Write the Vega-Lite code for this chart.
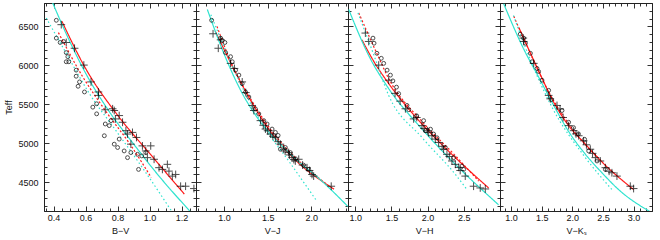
{
"$schema":"https://vega.github.io/schema/vega-lite/v6.json",
"padding":{"left":4,"top":2,"right":0,"bottom":0},
"bounds":"flush",
"spacing":0,
"config":{"view":{"stroke":"#222","strokeWidth":1},"concat":{"spacing":0},
"axis":{"domainColor":"#222","tickColor":"#333","labelFont":"Liberation Sans","labelFontSize":9,"titleFont":"Liberation Sans","titleFontSize":9,"titleFontWeight":"normal","labelColor":"#111","titleColor":"#111","domainWidth":1,"tickWidth":1,"grid":false,"labelFlush":false,"labelOverlap":false}},
"datasets":{
"lines":[
{"p":"BV","s":"fit","x":0.452,"t":6565},{"p":"BV","s":"fit","x":0.6,"t":5960},{"p":"BV","s":"fit","x":0.8,"t":5360},{"p":"BV","s":"fit","x":1.0,"t":4870},{"p":"BV","s":"fit","x":1.217,"t":4347},
{"p":"BV","s":"fitd","x":0.43,"t":6420},{"p":"BV","s":"fitd","x":0.58,"t":5860},{"p":"BV","s":"fitd","x":0.73,"t":5400},{"p":"BV","s":"fitd","x":0.88,"t":4980},{"p":"BV","s":"fitd","x":1.01,"t":4560},
{"p":"BV","s":"cal","x":0.38,"t":6870},{"p":"BV","s":"cal","x":0.48,"t":6400},{"p":"BV","s":"cal","x":0.6,"t":5900},{"p":"BV","s":"cal","x":0.75,"t":5400},{"p":"BV","s":"cal","x":0.9,"t":4990},{"p":"BV","s":"cal","x":1.05,"t":4600},{"p":"BV","s":"cal","x":1.26,"t":4110},
{"p":"BV","s":"cald","x":0.354,"t":6608},{"p":"BV","s":"cald","x":0.479,"t":6154},{"p":"BV","s":"cald","x":0.624,"t":5636},{"p":"BV","s":"cald","x":0.79,"t":5161},{"p":"BV","s":"cald","x":0.955,"t":4686},{"p":"BV","s":"cald","x":1.142,"t":4115},
{"p":"VJ","s":"fit","x":0.9,"t":6440},{"p":"VJ","s":"fit","x":1.1,"t":5980},{"p":"VJ","s":"fit","x":1.3,"t":5560},{"p":"VJ","s":"fit","x":1.5,"t":5200},{"p":"VJ","s":"fit","x":1.7,"t":4920},{"p":"VJ","s":"fit","x":1.9,"t":4700},{"p":"VJ","s":"fit","x":2.1,"t":4530},{"p":"VJ","s":"fit","x":2.26,"t":4410},
{"p":"VJ","s":"fitd","x":0.92,"t":6500},{"p":"VJ","s":"fitd","x":1.1,"t":5990},{"p":"VJ","s":"fitd","x":1.3,"t":5580},{"p":"VJ","s":"fitd","x":1.5,"t":5230},{"p":"VJ","s":"fitd","x":1.7,"t":4950},{"p":"VJ","s":"fitd","x":1.9,"t":4730},{"p":"VJ","s":"fitd","x":2.2,"t":4450},
{"p":"VJ","s":"cal","x":0.81,"t":6716},{"p":"VJ","s":"cal","x":1.0,"t":6150},{"p":"VJ","s":"cal","x":1.2,"t":5660},{"p":"VJ","s":"cal","x":1.4,"t":5300},{"p":"VJ","s":"cal","x":1.6,"t":5040},{"p":"VJ","s":"cal","x":1.817,"t":4800},{"p":"VJ","s":"cal","x":2.122,"t":4513},{"p":"VJ","s":"cal","x":2.418,"t":4189},
{"p":"VJ","s":"cald","x":0.85,"t":6650},{"p":"VJ","s":"cald","x":1.171,"t":5809},{"p":"VJ","s":"cald","x":1.437,"t":5247},{"p":"VJ","s":"cald","x":1.741,"t":4772},{"p":"VJ","s":"cald","x":2.065,"t":4254},
{"p":"VH","s":"fit","x":1.093,"t":6327},{"p":"VH","s":"fit","x":1.25,"t":6060},{"p":"VH","s":"fit","x":1.462,"t":5766},{"p":"VH","s":"fit","x":1.922,"t":5247},{"p":"VH","s":"fit","x":2.383,"t":4815},{"p":"VH","s":"fit","x":2.843,"t":4426},
{"p":"VH","s":"fitd","x":1.048,"t":6673},{"p":"VH","s":"fitd","x":1.3,"t":6150},{"p":"VH","s":"fitd","x":1.462,"t":5830},{"p":"VH","s":"fitd","x":1.922,"t":5280},{"p":"VH","s":"fitd","x":2.383,"t":4840},{"p":"VH","s":"fitd","x":2.705,"t":4513},
{"p":"VH","s":"cal","x":0.91,"t":6716},{"p":"VH","s":"cal","x":1.2,"t":6100},{"p":"VH","s":"cal","x":1.462,"t":5701},{"p":"VH","s":"cal","x":1.922,"t":5182},{"p":"VH","s":"cal","x":2.383,"t":4729},{"p":"VH","s":"cal","x":2.98,"t":4210},
{"p":"VH","s":"cald","x":1.038,"t":6673},{"p":"VH","s":"cald","x":1.25,"t":6150},{"p":"VH","s":"cald","x":1.462,"t":5614},{"p":"VH","s":"cald","x":1.922,"t":5074},{"p":"VH","s":"cald","x":2.383,"t":4600},{"p":"VH","s":"cald","x":2.544,"t":4405},
{"p":"VK","s":"fit","x":1.13,"t":6480},{"p":"VK","s":"fit","x":1.45,"t":5930},{"p":"VK","s":"fit","x":1.7,"t":5520},{"p":"VK","s":"fit","x":1.94,"t":5226},{"p":"VK","s":"fit","x":2.213,"t":4988},{"p":"VK","s":"fit","x":2.483,"t":4760},{"p":"VK","s":"fit","x":3.0,"t":4405},
{"p":"VK","s":"fitd","x":1.044,"t":6630},{"p":"VK","s":"fitd","x":1.3,"t":6180},{"p":"VK","s":"fitd","x":1.6,"t":5680},{"p":"VK","s":"fitd","x":1.94,"t":5250},{"p":"VK","s":"fitd","x":2.5,"t":4750},
{"p":"VK","s":"cal","x":0.88,"t":6790},{"p":"VK","s":"cal","x":1.2,"t":6220},{"p":"VK","s":"cal","x":1.45,"t":5850},{"p":"VK","s":"cal","x":1.7,"t":5480},{"p":"VK","s":"cal","x":1.94,"t":5150},{"p":"VK","s":"cal","x":2.213,"t":4858},{"p":"VK","s":"cal","x":2.483,"t":4621},{"p":"VK","s":"cal","x":2.755,"t":4405},{"p":"VK","s":"cal","x":3.28,"t":4115},
{"p":"VK","s":"cald","x":1.04,"t":6640},{"p":"VK","s":"cald","x":1.3,"t":6100},{"p":"VK","s":"cald","x":1.668,"t":5463},{"p":"VK","s":"cald","x":2.213,"t":4815},{"p":"VK","s":"cald","x":2.646,"t":4405}
],
"pts":[
{"p":"BV","k":"c","x":0.448,"t":6522},{"p":"BV","k":"c","x":0.479,"t":6293},{"p":"BV","k":"c","x":0.531,"t":6219},{"p":"BV","k":"c","x":0.589,"t":6003},{"p":"BV","k":"c","x":0.634,"t":5787},{"p":"BV","k":"c","x":0.68,"t":5658},{"p":"BV","k":"c","x":0.68,"t":5614},{"p":"BV","k":"c","x":0.723,"t":5429},{"p":"BV","k":"c","x":0.769,"t":5442},{"p":"BV","k":"c","x":0.779,"t":5420},{"p":"BV","k":"c","x":0.786,"t":5312},{"p":"BV","k":"c","x":0.81,"t":5355},{"p":"BV","k":"c","x":0.831,"t":5269},{"p":"BV","k":"c","x":0.852,"t":5161},{"p":"BV","k":"c","x":0.862,"t":5118},{"p":"BV","k":"c","x":0.883,"t":4988},{"p":"BV","k":"c","x":0.893,"t":5139},{"p":"BV","k":"c","x":0.918,"t":5074},{"p":"BV","k":"c","x":0.955,"t":4966},{"p":"BV","k":"c","x":0.976,"t":4901},{"p":"BV","k":"c","x":0.986,"t":4815},{"p":"BV","k":"c","x":1.007,"t":4966},{"p":"BV","k":"c","x":1.028,"t":4794},{"p":"BV","k":"c","x":1.059,"t":4686},{"p":"BV","k":"c","x":1.08,"t":4664},{"p":"BV","k":"c","x":1.111,"t":4729},{"p":"BV","k":"c","x":1.121,"t":4642},{"p":"BV","k":"c","x":1.142,"t":4578},{"p":"BV","k":"c","x":1.163,"t":4599},{"p":"BV","k":"c","x":1.194,"t":4448},{"p":"BV","k":"c","x":1.225,"t":4448},{"p":"BV","k":"c","x":1.277,"t":4418},
{"p":"BV","k":"o","x":0.417,"t":6578},{"p":"BV","k":"o","x":0.417,"t":6349},{"p":"BV","k":"o","x":0.441,"t":6293},{"p":"BV","k":"o","x":0.462,"t":6306},{"p":"BV","k":"o","x":0.479,"t":6163},{"p":"BV","k":"o","x":0.489,"t":6111},{"p":"BV","k":"o","x":0.479,"t":6046},{"p":"BV","k":"o","x":0.495,"t":6046},{"p":"BV","k":"o","x":0.541,"t":5938},{"p":"BV","k":"o","x":0.541,"t":5860},{"p":"BV","k":"o","x":0.553,"t":5731},{"p":"BV","k":"o","x":0.562,"t":5787},{"p":"BV","k":"o","x":0.593,"t":5658},{"p":"BV","k":"o","x":0.645,"t":5463},{"p":"BV","k":"o","x":0.669,"t":5377},{"p":"BV","k":"o","x":0.669,"t":5506},{"p":"BV","k":"o","x":0.723,"t":5247},{"p":"BV","k":"o","x":0.717,"t":5096},{"p":"BV","k":"o","x":0.748,"t":5226},{"p":"BV","k":"o","x":0.759,"t":5290},{"p":"BV","k":"o","x":0.779,"t":4988},{"p":"BV","k":"o","x":0.8,"t":4945},{"p":"BV","k":"o","x":0.81,"t":5053},{"p":"BV","k":"o","x":0.841,"t":4901},{"p":"BV","k":"o","x":0.862,"t":4815},{"p":"BV","k":"o","x":0.883,"t":4880},{"p":"BV","k":"o","x":0.924,"t":4858},{"p":"BV","k":"o","x":0.931,"t":4664},{"p":"BV","k":"o","x":0.951,"t":4837},{"p":"BV","k":"o","x":0.976,"t":4880},
{"p":"VJ","k":"c","x":0.875,"t":6405},{"p":"VJ","k":"c","x":0.935,"t":6219},{"p":"VJ","k":"c","x":0.962,"t":6327},{"p":"VJ","k":"c","x":1.076,"t":6025},{"p":"VJ","k":"c","x":1.12,"t":5960},{"p":"VJ","k":"c","x":1.209,"t":5787},{"p":"VJ","k":"c","x":1.25,"t":5650},{"p":"VJ","k":"c","x":1.323,"t":5485},{"p":"VJ","k":"c","x":1.342,"t":5420},{"p":"VJ","k":"c","x":1.418,"t":5290},{"p":"VJ","k":"c","x":1.45,"t":5230},{"p":"VJ","k":"c","x":1.475,"t":5182},{"p":"VJ","k":"c","x":1.5,"t":5160},{"p":"VJ","k":"c","x":1.532,"t":5118},{"p":"VJ","k":"c","x":1.56,"t":5090},{"p":"VJ","k":"c","x":1.589,"t":5074},{"p":"VJ","k":"c","x":1.62,"t":5020},{"p":"VJ","k":"c","x":1.646,"t":4988},{"p":"VJ","k":"c","x":1.684,"t":4923},{"p":"VJ","k":"c","x":1.7,"t":4900},{"p":"VJ","k":"c","x":1.741,"t":4880},{"p":"VJ","k":"c","x":1.75,"t":4850},{"p":"VJ","k":"c","x":1.779,"t":4815},{"p":"VJ","k":"c","x":1.8,"t":4790},{"p":"VJ","k":"c","x":1.817,"t":4772},{"p":"VJ","k":"c","x":1.856,"t":4794},{"p":"VJ","k":"c","x":1.9,"t":4720},{"p":"VJ","k":"c","x":1.951,"t":4686},{"p":"VJ","k":"c","x":1.98,"t":4650},{"p":"VJ","k":"c","x":2.008,"t":4599},{"p":"VJ","k":"c","x":2.027,"t":4578},{"p":"VJ","k":"c","x":2.228,"t":4448},
{"p":"VJ","k":"o","x":0.859,"t":6578},{"p":"VJ","k":"o","x":0.962,"t":6349},{"p":"VJ","k":"o","x":0.98,"t":6320},{"p":"VJ","k":"o","x":1.011,"t":6293},{"p":"VJ","k":"o","x":1.019,"t":6163},{"p":"VJ","k":"o","x":1.076,"t":6111},{"p":"VJ","k":"o","x":1.095,"t":6046},{"p":"VJ","k":"o","x":1.133,"t":5938},{"p":"VJ","k":"o","x":1.171,"t":5874},{"p":"VJ","k":"o","x":1.209,"t":5766},{"p":"VJ","k":"o","x":1.247,"t":5658},{"p":"VJ","k":"o","x":1.285,"t":5593},{"p":"VJ","k":"o","x":1.36,"t":5440},{"p":"VJ","k":"o","x":1.399,"t":5377},{"p":"VJ","k":"o","x":1.456,"t":5290},{"p":"VJ","k":"o","x":1.494,"t":5247},{"p":"VJ","k":"o","x":1.551,"t":5182},{"p":"VJ","k":"o","x":1.589,"t":5139},{"p":"VJ","k":"o","x":1.62,"t":5100},{"p":"VJ","k":"o","x":1.646,"t":4923},{"p":"VJ","k":"o","x":1.703,"t":4945},{"p":"VJ","k":"o","x":1.76,"t":4880},{"p":"VJ","k":"o","x":1.82,"t":4800},{"p":"VJ","k":"o","x":1.91,"t":4720},{"p":"VJ","k":"o","x":1.97,"t":4664},
{"p":"VH","k":"c","x":1.14,"t":6414},{"p":"VH","k":"c","x":1.186,"t":6306},{"p":"VH","k":"c","x":1.324,"t":6003},{"p":"VH","k":"c","x":1.462,"t":5809},{"p":"VH","k":"c","x":1.55,"t":5640},{"p":"VH","k":"c","x":1.62,"t":5540},{"p":"VH","k":"c","x":1.693,"t":5442},{"p":"VH","k":"c","x":1.807,"t":5312},{"p":"VH","k":"c","x":1.85,"t":5330},{"p":"VH","k":"c","x":1.922,"t":5226},{"p":"VH","k":"c","x":1.95,"t":5190},{"p":"VH","k":"c","x":2.0,"t":5160},{"p":"VH","k":"c","x":2.014,"t":5139},{"p":"VH","k":"c","x":2.06,"t":5096},{"p":"VH","k":"c","x":2.106,"t":5053},{"p":"VH","k":"c","x":2.152,"t":5010},{"p":"VH","k":"c","x":2.2,"t":4960},{"p":"VH","k":"c","x":2.221,"t":4923},{"p":"VH","k":"c","x":2.267,"t":4858},{"p":"VH","k":"c","x":2.3,"t":4830},{"p":"VH","k":"c","x":2.336,"t":4772},{"p":"VH","k":"c","x":2.383,"t":4729},{"p":"VH","k":"c","x":2.43,"t":4690},{"p":"VH","k":"c","x":2.45,"t":4650},{"p":"VH","k":"c","x":2.52,"t":4578},{"p":"VH","k":"c","x":2.635,"t":4448},{"p":"VH","k":"c","x":2.727,"t":4426},{"p":"VH","k":"c","x":2.797,"t":4413},
{"p":"VH","k":"o","x":1.245,"t":6349},{"p":"VH","k":"o","x":1.26,"t":6284},{"p":"VH","k":"o","x":1.3,"t":6154},{"p":"VH","k":"o","x":1.36,"t":6090},{"p":"VH","k":"o","x":1.393,"t":6025},{"p":"VH","k":"o","x":1.44,"t":5938},{"p":"VH","k":"o","x":1.486,"t":5874},{"p":"VH","k":"o","x":1.52,"t":5800},{"p":"VH","k":"o","x":1.57,"t":5720},{"p":"VH","k":"o","x":1.6,"t":5636},{"p":"VH","k":"o","x":1.715,"t":5485},{"p":"VH","k":"o","x":1.74,"t":5430},{"p":"VH","k":"o","x":1.85,"t":5350},{"p":"VH","k":"o","x":1.945,"t":5290},{"p":"VH","k":"o","x":1.97,"t":5160},{"p":"VH","k":"o","x":2.04,"t":5180},{"p":"VH","k":"o","x":2.083,"t":5118},{"p":"VH","k":"o","x":2.13,"t":5070},{"p":"VH","k":"o","x":2.244,"t":4945},{"p":"VH","k":"o","x":2.36,"t":4815},{"p":"VH","k":"o","x":2.475,"t":4707},{"p":"VH","k":"o","x":2.498,"t":4664},
{"p":"VK","k":"c","x":1.2,"t":6350},{"p":"VK","k":"c","x":1.207,"t":6306},{"p":"VK","k":"c","x":1.37,"t":6025},{"p":"VK","k":"c","x":1.614,"t":5614},{"p":"VK","k":"c","x":1.64,"t":5570},{"p":"VK","k":"c","x":1.75,"t":5485},{"p":"VK","k":"c","x":1.8,"t":5440},{"p":"VK","k":"c","x":1.85,"t":5330},{"p":"VK","k":"c","x":1.94,"t":5226},{"p":"VK","k":"c","x":2.022,"t":5161},{"p":"VK","k":"c","x":2.06,"t":5120},{"p":"VK","k":"c","x":2.104,"t":5096},{"p":"VK","k":"c","x":2.185,"t":5031},{"p":"VK","k":"c","x":2.23,"t":4980},{"p":"VK","k":"c","x":2.294,"t":4923},{"p":"VK","k":"c","x":2.33,"t":4870},{"p":"VK","k":"c","x":2.376,"t":4815},{"p":"VK","k":"c","x":2.457,"t":4772},{"p":"VK","k":"c","x":2.539,"t":4686},{"p":"VK","k":"c","x":2.6,"t":4640},{"p":"VK","k":"c","x":2.646,"t":4621},{"p":"VK","k":"c","x":2.728,"t":4578},{"p":"VK","k":"c","x":2.946,"t":4448},{"p":"VK","k":"c","x":3.0,"t":4418},
{"p":"VK","k":"o","x":1.15,"t":6400},{"p":"VK","k":"o","x":1.207,"t":6349},{"p":"VK","k":"o","x":1.235,"t":6284},{"p":"VK","k":"o","x":1.316,"t":6154},{"p":"VK","k":"o","x":1.343,"t":6046},{"p":"VK","k":"o","x":1.424,"t":5960},{"p":"VK","k":"o","x":1.45,"t":5920},{"p":"VK","k":"o","x":1.505,"t":5809},{"p":"VK","k":"o","x":1.614,"t":5679},{"p":"VK","k":"o","x":1.66,"t":5560},{"p":"VK","k":"o","x":1.832,"t":5420},{"p":"VK","k":"o","x":1.94,"t":5269},{"p":"VK","k":"o","x":2.02,"t":5200},{"p":"VK","k":"o","x":2.1,"t":5120},{"p":"VK","k":"o","x":2.2,"t":5050},{"p":"VK","k":"o","x":2.267,"t":4901},{"p":"VK","k":"o","x":2.403,"t":4772},{"p":"VK","k":"o","x":2.539,"t":4664}
]},
"hconcat":[
{"width":152,"height":208,
"layer":[
{"data":{"name":"lines"},"transform":[{"filter":"datum.p==='BV'"}],"mark":{"type":"line","clip":true,"strokeWidth":1.2,"interpolate":"monotone"},
"encoding":{
"x":{"field":"x","type":"quantitative","scale":{"domain":[0.34,1.29],"nice":false,"zero":false},"axis":{"orient":"bottom","values":[0.35,0.4,0.45,0.5,0.55,0.6,0.65,0.7,0.75,0.8,0.85,0.9,0.95,1.0,1.05,1.1,1.15,1.2,1.25],"format":".1f","labelExpr":"abs(datum.value*5-round(datum.value*5))<0.001 ? datum.label : ''","tickSize":{"condition":{"test":"abs(datum.value*5-round(datum.value*5))<0.001","value":-5},"value":-3},"labelPadding":7,"title":"B−V","titlePadding":2}},
"y":{"field":"t","type":"quantitative","scale":{"domain":[4130,6800],"nice":false,"zero":false},"axis":{"orient":"left","values":[4200,4300,4400,4500,4600,4700,4800,4900,5000,5100,5200,5300,5400,5500,5600,5700,5800,5900,6000,6100,6200,6300,6400,6500,6600,6700],"format":"d","labelExpr":"datum.value % 500 === 0 ? datum.label : ''","tickSize":{"condition":{"test":"datum.value % 500 === 0","value":-5},"value":-3},"labelPadding":11,"title":"Teff","titlePadding":4}},
"color":{"field":"s","type":"nominal","scale":{"domain":["fit","fitd","cal","cald"],"range":["#ff1a1a","#ff1a1a","#2ee3cf","#2ee3cf"]},"legend":null},
"strokeDash":{"field":"s","type":"nominal","scale":{"domain":["fit","fitd","cal","cald"],"range":[[1,0],[2,2],[1,0],[1.5,2.5]]},"legend":null}}},
{"data":{"name":"pts"},"transform":[{"filter":"datum.p==='BV' && datum.k==='c'"}],"mark":{"type":"point","shape":"M-1,0H1M0,-1V1","size":60,"strokeWidth":1,"color":"#000","filled":false,"clip":true},
"encoding":{
"x":{"field":"x","type":"quantitative","axis":{"orient":"top","values":[0.35,0.4,0.45,0.5,0.55,0.6,0.65,0.7,0.75,0.8,0.85,0.9,0.95,1.0,1.05,1.1,1.15,1.2,1.25],"labels":false,"tickSize":{"condition":{"test":"abs(datum.value*5-round(datum.value*5))<0.001","value":-5},"value":-3},"title":null}},
"y":{"field":"t","type":"quantitative","axis":{"orient":"right","values":[4200,4300,4400,4500,4600,4700,4800,4900,5000,5100,5200,5300,5400,5500,5600,5700,5800,5900,6000,6100,6200,6300,6400,6500,6600,6700],"labels":false,"tickSize":{"condition":{"test":"datum.value % 500 === 0","value":-5},"value":-3},"title":null}}}},
{"data":{"name":"pts"},"transform":[{"filter":"datum.p==='BV' && datum.k==='o'"}],"mark":{"type":"point","shape":"circle","size":15,"strokeWidth":1,"color":"#000","filled":false,"clip":true},
"encoding":{"x":{"field":"x","type":"quantitative","axis":null},"y":{"field":"t","type":"quantitative","axis":null}}}
],
"resolve":{"axis":{"x":"independent","y":"independent"}}},
{"width":152,"height":208,
"layer":[
{"data":{"name":"lines"},"transform":[{"filter":"datum.p==='VJ'"}],"mark":{"type":"line","clip":true,"strokeWidth":1.2,"interpolate":"monotone"},
"encoding":{
"x":{"field":"x","type":"quantitative","scale":{"domain":[0.68,2.42],"nice":false,"zero":false},"axis":{"orient":"bottom","values":[0.7,0.8,0.9,1.0,1.1,1.2,1.3,1.4,1.5,1.6,1.7,1.8,1.9,2.0,2.1,2.2,2.3,2.4],"format":".1f","labelExpr":"abs(datum.value*2-round(datum.value*2))<0.001 ? datum.label : ''","tickSize":{"condition":{"test":"abs(datum.value*2-round(datum.value*2))<0.001","value":-5},"value":-3},"labelPadding":7,"title":"V−J","titlePadding":2}},
"y":{"field":"t","type":"quantitative","scale":{"domain":[4130,6800],"nice":false,"zero":false},"axis":{"orient":"left","values":[4200,4300,4400,4500,4600,4700,4800,4900,5000,5100,5200,5300,5400,5500,5600,5700,5800,5900,6000,6100,6200,6300,6400,6500,6600,6700],"labels":false,"tickSize":{"condition":{"test":"datum.value % 500 === 0","value":-5},"value":-3},"title":null}},
"color":{"field":"s","type":"nominal","scale":{"domain":["fit","fitd","cal","cald"],"range":["#ff1a1a","#ff1a1a","#2ee3cf","#2ee3cf"]},"legend":null},
"strokeDash":{"field":"s","type":"nominal","scale":{"domain":["fit","fitd","cal","cald"],"range":[[1,0],[2,2],[1,0],[1.5,2.5]]},"legend":null}}},
{"data":{"name":"pts"},"transform":[{"filter":"datum.p==='VJ' && datum.k==='c'"}],"mark":{"type":"point","shape":"M-1,0H1M0,-1V1","size":60,"strokeWidth":1,"color":"#000","filled":false,"clip":true},
"encoding":{
"x":{"field":"x","type":"quantitative","axis":{"orient":"top","values":[0.7,0.8,0.9,1.0,1.1,1.2,1.3,1.4,1.5,1.6,1.7,1.8,1.9,2.0,2.1,2.2,2.3,2.4],"labels":false,"tickSize":{"condition":{"test":"abs(datum.value*2-round(datum.value*2))<0.001","value":-5},"value":-3},"title":null}},
"y":{"field":"t","type":"quantitative","axis":{"orient":"right","values":[4200,4300,4400,4500,4600,4700,4800,4900,5000,5100,5200,5300,5400,5500,5600,5700,5800,5900,6000,6100,6200,6300,6400,6500,6600,6700],"labels":false,"tickSize":{"condition":{"test":"datum.value % 500 === 0","value":-5},"value":-3},"title":null}}}},
{"data":{"name":"pts"},"transform":[{"filter":"datum.p==='VJ' && datum.k==='o'"}],"mark":{"type":"point","shape":"circle","size":15,"strokeWidth":1,"color":"#000","filled":false,"clip":true},
"encoding":{"x":{"field":"x","type":"quantitative","axis":null},"y":{"field":"t","type":"quantitative","axis":null}}}
],
"resolve":{"axis":{"x":"independent","y":"independent"}}},
{"width":152,"height":208,
"layer":[
{"data":{"name":"lines"},"transform":[{"filter":"datum.p==='VH'"}],"mark":{"type":"line","clip":true,"strokeWidth":1.2,"interpolate":"monotone"},
"encoding":{
"x":{"field":"x","type":"quantitative","scale":{"domain":[0.9,3.0],"nice":false,"zero":false},"axis":{"orient":"bottom","values":[1.0,1.1,1.2,1.3,1.4,1.5,1.6,1.7,1.8,1.9,2.0,2.1,2.2,2.3,2.4,2.5,2.6,2.7,2.8,2.9],"format":".1f","labelExpr":"abs(datum.value*2-round(datum.value*2))<0.001 ? datum.label : ''","tickSize":{"condition":{"test":"abs(datum.value*2-round(datum.value*2))<0.001","value":-5},"value":-3},"labelPadding":7,"title":"V−H","titlePadding":2}},
"y":{"field":"t","type":"quantitative","scale":{"domain":[4130,6800],"nice":false,"zero":false},"axis":{"orient":"left","values":[4200,4300,4400,4500,4600,4700,4800,4900,5000,5100,5200,5300,5400,5500,5600,5700,5800,5900,6000,6100,6200,6300,6400,6500,6600,6700],"labels":false,"tickSize":{"condition":{"test":"datum.value % 500 === 0","value":-5},"value":-3},"title":null}},
"color":{"field":"s","type":"nominal","scale":{"domain":["fit","fitd","cal","cald"],"range":["#ff1a1a","#ff1a1a","#2ee3cf","#2ee3cf"]},"legend":null},
"strokeDash":{"field":"s","type":"nominal","scale":{"domain":["fit","fitd","cal","cald"],"range":[[1,0],[2,2],[1,0],[1.5,2.5]]},"legend":null}}},
{"data":{"name":"pts"},"transform":[{"filter":"datum.p==='VH' && datum.k==='c'"}],"mark":{"type":"point","shape":"M-1,0H1M0,-1V1","size":60,"strokeWidth":1,"color":"#000","filled":false,"clip":true},
"encoding":{
"x":{"field":"x","type":"quantitative","axis":{"orient":"top","values":[1.0,1.1,1.2,1.3,1.4,1.5,1.6,1.7,1.8,1.9,2.0,2.1,2.2,2.3,2.4,2.5,2.6,2.7,2.8,2.9],"labels":false,"tickSize":{"condition":{"test":"abs(datum.value*2-round(datum.value*2))<0.001","value":-5},"value":-3},"title":null}},
"y":{"field":"t","type":"quantitative","axis":{"orient":"right","values":[4200,4300,4400,4500,4600,4700,4800,4900,5000,5100,5200,5300,5400,5500,5600,5700,5800,5900,6000,6100,6200,6300,6400,6500,6600,6700],"labels":false,"tickSize":{"condition":{"test":"datum.value % 500 === 0","value":-5},"value":-3},"title":null}}}},
{"data":{"name":"pts"},"transform":[{"filter":"datum.p==='VH' && datum.k==='o'"}],"mark":{"type":"point","shape":"circle","size":15,"strokeWidth":1,"color":"#000","filled":false,"clip":true},
"encoding":{"x":{"field":"x","type":"quantitative","axis":null},"y":{"field":"t","type":"quantitative","axis":null}}}
],
"resolve":{"axis":{"x":"independent","y":"independent"}}},
{"width":152,"height":208,
"layer":[
{"data":{"name":"lines"},"transform":[{"filter":"datum.p==='VK'"}],"mark":{"type":"line","clip":true,"strokeWidth":1.2,"interpolate":"monotone"},
"encoding":{
"x":{"field":"x","type":"quantitative","scale":{"domain":[0.82,3.3],"nice":false,"zero":false},"axis":{"orient":"bottom","values":[0.9,1.0,1.1,1.2,1.3,1.4,1.5,1.6,1.7,1.8,1.9,2.0,2.1,2.2,2.3,2.4,2.5,2.6,2.7,2.8,2.9,3.0,3.1,3.2],"format":".1f","labelExpr":"abs(datum.value*2-round(datum.value*2))<0.001 ? datum.label : ''","tickSize":{"condition":{"test":"abs(datum.value*2-round(datum.value*2))<0.001","value":-5},"value":-3},"labelPadding":7,"title":"V−Kₛ","titlePadding":2}},
"y":{"field":"t","type":"quantitative","scale":{"domain":[4130,6800],"nice":false,"zero":false},"axis":{"orient":"left","values":[4200,4300,4400,4500,4600,4700,4800,4900,5000,5100,5200,5300,5400,5500,5600,5700,5800,5900,6000,6100,6200,6300,6400,6500,6600,6700],"labels":false,"tickSize":{"condition":{"test":"datum.value % 500 === 0","value":-5},"value":-3},"title":null}},
"color":{"field":"s","type":"nominal","scale":{"domain":["fit","fitd","cal","cald"],"range":["#ff1a1a","#ff1a1a","#2ee3cf","#2ee3cf"]},"legend":null},
"strokeDash":{"field":"s","type":"nominal","scale":{"domain":["fit","fitd","cal","cald"],"range":[[1,0],[2,2],[1,0],[1.5,2.5]]},"legend":null}}},
{"data":{"name":"pts"},"transform":[{"filter":"datum.p==='VK' && datum.k==='c'"}],"mark":{"type":"point","shape":"M-1,0H1M0,-1V1","size":60,"strokeWidth":1,"color":"#000","filled":false,"clip":true},
"encoding":{
"x":{"field":"x","type":"quantitative","axis":{"orient":"top","values":[0.9,1.0,1.1,1.2,1.3,1.4,1.5,1.6,1.7,1.8,1.9,2.0,2.1,2.2,2.3,2.4,2.5,2.6,2.7,2.8,2.9,3.0,3.1,3.2],"labels":false,"tickSize":{"condition":{"test":"abs(datum.value*2-round(datum.value*2))<0.001","value":-5},"value":-3},"title":null}},
"y":{"field":"t","type":"quantitative","axis":{"orient":"right","values":[4200,4300,4400,4500,4600,4700,4800,4900,5000,5100,5200,5300,5400,5500,5600,5700,5800,5900,6000,6100,6200,6300,6400,6500,6600,6700],"labels":false,"tickSize":{"condition":{"test":"datum.value % 500 === 0","value":-5},"value":-3},"title":null}}}},
{"data":{"name":"pts"},"transform":[{"filter":"datum.p==='VK' && datum.k==='o'"}],"mark":{"type":"point","shape":"circle","size":15,"strokeWidth":1,"color":"#000","filled":false,"clip":true},
"encoding":{"x":{"field":"x","type":"quantitative","axis":null},"y":{"field":"t","type":"quantitative","axis":null}}}
],
"resolve":{"axis":{"x":"independent","y":"independent"}}}
]
}
